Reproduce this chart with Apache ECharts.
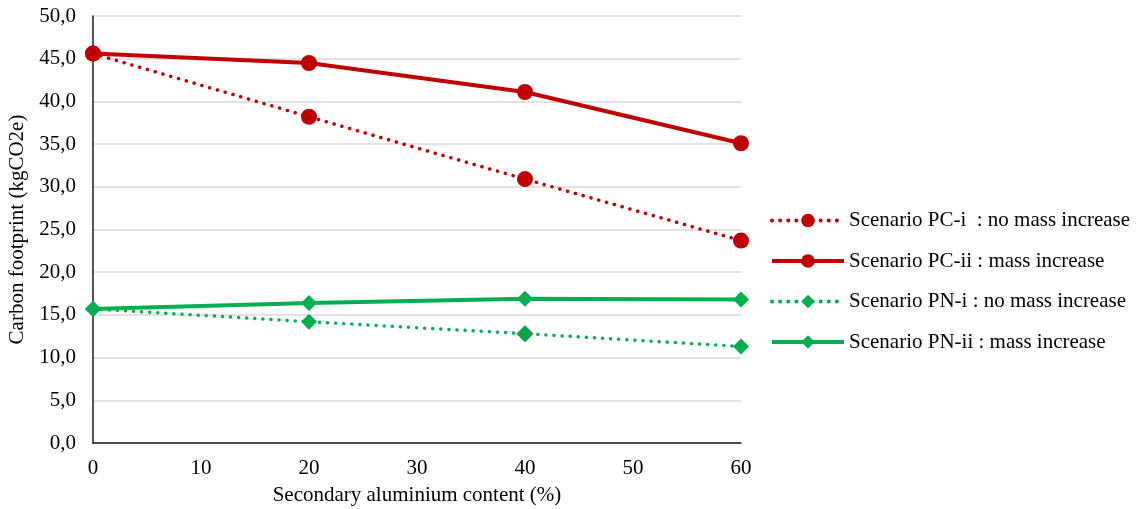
<!DOCTYPE html>
<html><head><meta charset="utf-8">
<script src="https://cdn.jsdelivr.net/npm/echarts@6/dist/echarts.min.js"></script>
<style>html,body{margin:0;padding:0;background:#fff}#c{width:1140px;height:509px}</style>
</head><body><div id="c"></div>
<script>
const xValues = [0, 20, 40, 60];
const seriesNames = [
  'Scenario PC-i  : no mass increase',
  'Scenario PC-ii : mass increase',
  'Scenario PN-i : no mass increase',
  'Scenario PN-ii : mass increase'
];
const pcI = [45.6, 38.2, 30.9, 23.7];
const pcII = [45.6, 44.5, 41.1, 35.1];
const pnI = [15.7, 14.2, 12.8, 11.3];
const pnII = [15.7, 16.4, 16.9, 16.8];

const RED = '#C00000', GREEN = '#00B050';
const font = "'Liberation Serif', 'Times New Roman', serif";
function pts(v, darkIdx){
  return xValues.map((x,i)=>{
    const d = {value:[x, v[i]]};
    if (i === darkIdx) d.itemStyle = {color:'#06A446', borderColor:'#0A8A3C', borderWidth:1};
    return d;
  });
}
function mk(name, data, color, dotted, symbol, size, darkIdx){
  return {
    name, type:'line', data: pts(data, darkIdx), symbol, symbolSize: size,
    itemStyle:{color},
    lineStyle: dotted ? {color, width:3.5, type:[0.1,8], cap:'round'} : {color, width:4},
    emphasis:{disabled:true}, animation:false
  };
}
const chart = echarts.init(document.getElementById('c'));
chart.setOption({
  animation:false,
  grid:{left:93, right:399, top:16, bottom:66, outerBoundsMode:'none', containLabel:false},
  legend:{
    orient:'vertical', left:765, top:205, itemWidth:72, itemHeight:17, itemGap:19.5,
    lineStyle:{width:4},
    textStyle:{fontFamily:font, fontSize:21, lineHeight:21, color:'#000'},
    data: seriesNames
  },
  xAxis:{
    type:'value', min:0, max:60, interval:10,
    name:'Secondary aluminium content (%)', nameLocation:'middle', nameGap:42,
    nameTextStyle:{fontFamily:font, fontSize:21, color:'#000'},
    axisLine:{lineStyle:{color:'#1a1a2a', width:1.5}},
    axisTick:{show:false},
    splitLine:{show:false},
    axisLabel:{fontFamily:font, fontSize:21, color:'#000', margin:15}
  },
  yAxis:{
    type:'value', min:0, max:50, interval:5,
    name:'Carbon footprint (kgCO2e)', nameLocation:'middle', nameGap:63,
    nameTextStyle:{fontFamily:font, fontSize:21, color:'#000'},
    axisLine:{show:true, lineStyle:{color:'#1a1a2a', width:1.5}},
    axisTick:{show:false},
    splitLine:{lineStyle:{color:'#d9d9d9', width:1.5}},
    axisLabel:{fontFamily:font, fontSize:21, color:'#000', margin:17,
      formatter:v=>v.toFixed(1).replace('.',',')}
  },
  series:[
    mk(seriesNames[0], pcI, RED, true, 'circle', 16),
    mk(seriesNames[1], pcII, RED, false, 'circle', 16),
    mk(seriesNames[2], pnI, GREEN, true, 'diamond', 16, 2),
    mk(seriesNames[3], pnII, GREEN, false, 'diamond', 16)
  ]
});
</script></body></html>
